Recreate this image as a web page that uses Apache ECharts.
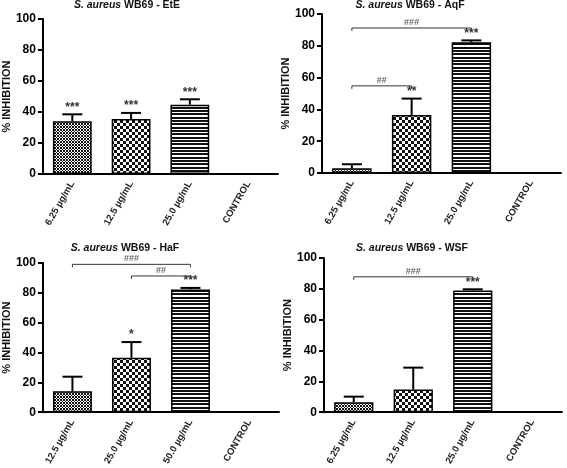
<!DOCTYPE html>
<html><head><meta charset="utf-8">
<script src="https://cdn.jsdelivr.net/npm/echarts@6/dist/echarts.min.js"></script>
<style>html,body{margin:0;padding:0;background:#fff}#c{width:567px;height:468px}</style>
</head><body><div id="c"></div>
<script>
// ---- data ----
const categoriesA = ['6.25 µg/mL', '12.5 µg/mL', '25.0 µg/mL', 'CONTROL'];
const categoriesHaF = ['12.5 µg/mL', '25.0 µg/mL', '50.0 µg/mL', 'CONTROL'];
const yTicks = [0, 20, 40, 60, 80, 100];
const panelNames = ['EtE', 'AqF', 'HaF', 'WSF'];

const eteMean = [34, 35.5, 44.7, 0];
const eteErr = [4.5, 3.9, 3.5, 0];
const eteStars = ['***', '***', '***', ''];
const eteBrackets = [];

const aqfMean = [3, 36.5, 82.3, 0];
const aqfErr = [2.5, 10.3, 1.1, 0];
const aqfStars = ['', '**', '***', ''];
const aqfBrackets = [[0, 2, 91.2, '###'], [0, 1, 54.8, '##']];

const hafMean = [14, 36.5, 82.3, 0];
const hafErr = [9.8, 10.5, 1.0, 0];
const hafStars = ['', '*', '***', ''];
const hafBrackets = [[0, 2, 99.1, '###'], [1, 2, 91.3, '##']];

const wsfMean = [6.5, 14.7, 78.9, 0];
const wsfErr = [3.6, 14.2, 0.8, 0];
const wsfStars = ['', '', '***', ''];
const wsfBrackets = [[0, 2, 87.8, '###']];

// ---- styles ----
function pat(w, h, draw) {
  const c = document.createElement('canvas'); c.width = w; c.height = h;
  const g = c.getContext('2d'); g.fillStyle = '#fff'; g.fillRect(0, 0, w, h);
  g.fillStyle = '#111'; draw(g); return { image: c, repeat: 'repeat' };
}
const patFine = pat(3, 3, g => { g.fillRect(0, 0, 2, 2); g.fillRect(2, 2, 1, 1); });
const patChecker = pat(6, 6, g => { g.fillRect(0, 0, 3, 3); g.fillRect(3, 3, 3, 3); });
const patStripes = pat(1, 10, g => { g.fillRect(0, 0, 1, 2); g.fillRect(0, 3, 1, 2); g.fillRect(0, 7, 1, 2); });
const patterns = [patFine, patChecker, patStripes, '#fff'];

const FONT = '"Liberation Sans", Arial, sans-serif';

const panels = [
  { name: panelNames[0], cats: categoriesA, mean: eteMean, err: eteErr, stars: eteStars, br: eteBrackets,
    grid: { left: 38, right: 289, top: 19, bottom: 294 }, title: { x: 127, y: 0 } },
  { name: panelNames[1], cats: categoriesA, mean: aqfMean, err: aqfErr, stars: aqfStars, br: aqfBrackets,
    grid: { left: 322, right: 6, top: 14, bottom: 295 }, title: { x: 410, y: 0 } },
  { name: panelNames[2], cats: categoriesHaF, mean: hafMean, err: hafErr, stars: hafStars, br: hafBrackets,
    grid: { left: 40, right: 288, top: 263, bottom: 50 }, title: { x: 125, y: 243 } },
  { name: panelNames[3], cats: categoriesA, mean: wsfMean, err: wsfErr, stars: wsfStars, br: wsfBrackets,
    grid: { left: 324, right: 5, top: 258, bottom: 52 }, title: { x: 412, y: 243 } }
];

function makeErr(stars) {
  return function (params, api) {
    const idx = params.dataIndex;
    const x = api.value(0), m = api.value(1), e = api.value(2);
    const base = api.coord([x, m]), top = api.coord([x, m + e]);
    const ch = [];
    if (e > 0) {
      ch.push({ type: 'line', shape: { x1: base[0], y1: base[1], x2: top[0], y2: top[1] }, style: { stroke: '#000', lineWidth: 2 } });
      ch.push({ type: 'line', shape: { x1: top[0] - 10, y1: top[1], x2: top[0] + 10, y2: top[1] }, style: { stroke: '#000', lineWidth: 2 } });
    }
    if (stars[idx]) {
      ch.push({ type: 'text', x: top[0], y: top[1] - 1, style: { text: stars[idx], align: 'center', verticalAlign: 'bottom', font: 'bold 12px ' + FONT, fill: '#333' } });
    }
    return { type: 'group', children: ch };
  };
}
function makeBr(labels) {
  return function (params, api) {
    const i = params.dataIndex;
    const a = api.coord([api.value(0), api.value(2)]);
    const b = api.coord([api.value(1), api.value(2)]);
    const d = 3;
    return { type: 'group', children: [
      { type: 'polyline', shape: { points: [[a[0], a[1] + d], [a[0], a[1]], [b[0], b[1]], [b[0], b[1] + d]] }, style: { stroke: '#333', lineWidth: 1, fill: null } },
      { type: 'text', x: (a[0] + b[0]) / 2, y: a[1] - 1, style: { text: labels[i], align: 'center', verticalAlign: 'bottom', font: 'bold 9px ' + FONT, fill: '#666' } }
    ] };
  };
}

const option = { animation: false, backgroundColor: '#fff', title: [], grid: [], xAxis: [], yAxis: [], series: [] };
panels.forEach((p, k) => {
  option.title.push({ text: '{i|S. aureus}{n| WB69 - ' + p.name + '}', left: p.title.x, top: p.title.y, textAlign: 'center', padding: 0,
    textStyle: { rich: { i: { fontStyle: 'italic', fontWeight: 'bold', fontSize: 10.5, fontFamily: FONT, color: '#111' }, n: { fontWeight: 'bold', fontSize: 10.5, fontFamily: FONT, color: '#111' } } } });
  option.grid.push(Object.assign({ containLabel: false }, p.grid));
  option.xAxis.push({ type: 'category', gridIndex: k, data: p.cats,
    axisLine: { lineStyle: { color: '#000', width: 2 } },
    axisTick: { alignWithLabel: true, length: 5, lineStyle: { color: '#000', width: 2 } },
    axisLabel: { interval: 0, rotate: 60, fontSize: 9.5, fontWeight: 'bold', color: '#222', fontFamily: FONT, margin: 8 } });
  option.yAxis.push({ type: 'value', gridIndex: k, min: yTicks[0], max: yTicks[yTicks.length - 1], interval: yTicks[1] - yTicks[0],
    name: '% INHIBITION', nameLocation: 'middle', nameGap: 25, nameTextStyle: { fontSize: 11, fontWeight: 'bold', color: '#111', fontFamily: FONT },
    axisLine: { show: true, lineStyle: { color: '#000', width: 2 } },
    axisTick: { show: true, length: 5, lineStyle: { color: '#000', width: 2 } },
    axisLabel: { fontSize: 12, fontWeight: 'bold', color: '#000', fontFamily: FONT, margin: 7 },
    splitLine: { show: false } });
  option.series.push({ type: 'bar', xAxisIndex: k, yAxisIndex: k, barWidth: '66%',
    data: p.mean.map((v, i) => ({ value: v, itemStyle: { color: patterns[i], borderColor: '#000', borderWidth: v > 0 ? 1.5 : 0 } })) });
  option.series.push({ type: 'custom', xAxisIndex: k, yAxisIndex: k, renderItem: makeErr(p.stars),
    data: p.mean.map((v, i) => [i, v, p.err[i]]), encode: { x: 0, y: 1 }, z: 3 });
  if (p.br.length) {
    option.series.push({ type: 'custom', xAxisIndex: k, yAxisIndex: k, renderItem: makeBr(p.br.map(b => b[3])),
      data: p.br.map(b => [b[0], b[1], b[2]]), encode: { x: [0, 1], y: 2 }, z: 3 });
  }
});
const chart = echarts.init(document.getElementById('c'), null, { renderer: 'canvas' });
chart.setOption(option);
</script>
</body></html>
